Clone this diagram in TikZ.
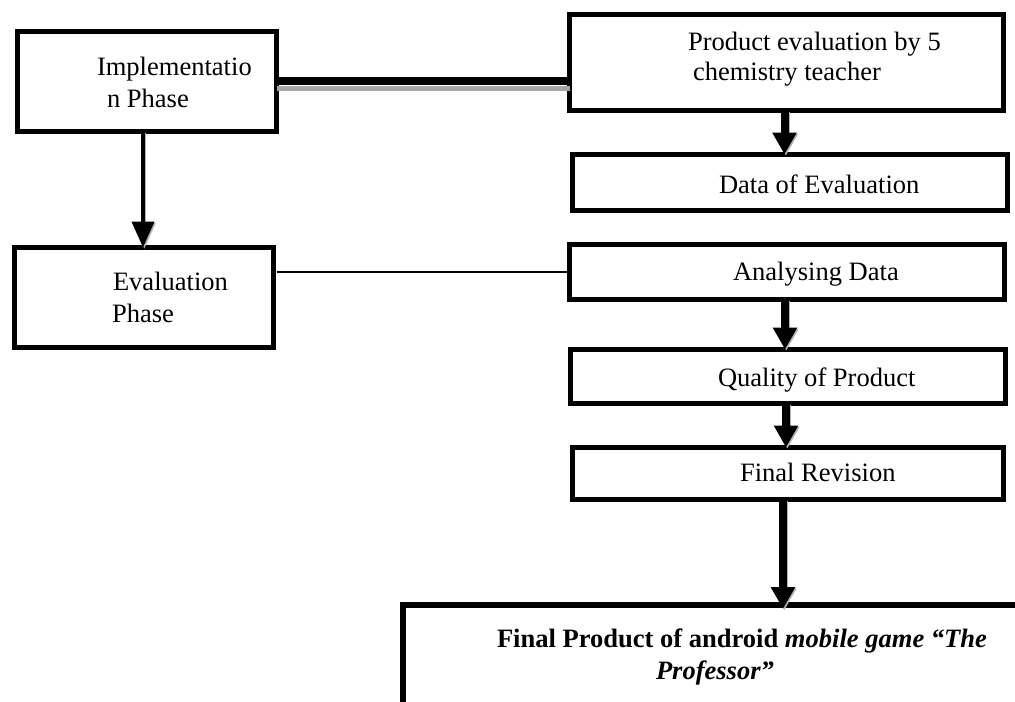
\documentclass[tikz,border=0pt]{standalone}
\usepackage{fontspec}
\setmainfont{Liberation Serif}
\usetikzlibrary{arrows.meta}
\begin{document}
\begin{tikzpicture}[x=0.75pt,y=-0.75pt,
  box/.style={draw, line width=3.75pt, rectangle, inner sep=0pt, outer sep=0pt},
  txt/.style={anchor=base west, inner sep=0pt, outer sep=0pt, font=\fontsize{19.9}{23}\selectfont},
  bighead/.style={-{Triangle[length=16.5pt,width=17.25pt]}},
  bigarrow/.style={line width=6pt, bighead,
    preaction={draw=gray!60, line width=6pt, bighead, transform canvas={xshift=1pt, yshift=-1pt}}},
  thinhead/.style={-{Triangle[length=19.5pt,width=16.5pt]}},
  thinarrow/.style={line width=3pt, thinhead,
    preaction={draw=gray!60, line width=3pt, thinhead, transform canvas={xshift=1pt, yshift=-1pt}}},
  thickline/.style={line width=6pt},
  shadowline/.style={draw=gray!70, line width=3.75pt},
  thinline/.style={line width=1.5pt}
]
\useasboundingbox (0,0) rectangle (1015,701);
\clip (0,0) rectangle (1015,701);

% boxes
\node[box, minimum width=194.25pt, minimum height=75pt] (impl) at (147,81.5) {};
\node[box, minimum width=194.25pt, minimum height=75pt] (eval) at (144,297.5) {};
\node[box, minimum width=325.5pt, minimum height=72pt] (prod) at (786.5,62.5) {};
\node[box, minimum width=326.25pt, minimum height=42pt] (data) at (790,182.5) {};
\node[box, minimum width=326.25pt, minimum height=41.25pt] (anal) at (787,272) {};
\node[box, minimum width=326.25pt, minimum height=40.5pt] (qual) at (788,376.5) {};
\node[box, minimum width=323.25pt, minimum height=39pt] (frev) at (788,473.5) {};
\node[box, line width=4.5pt, minimum width=477.75pt, minimum height=101.25pt] (final) at (721.5,672.5) {};

% texts
\node[txt] (timpla) at (97,75) {Implementatio};
\node[txt] (timplb) at (107,107) {n Phase};
\node[txt] (tproda) at (688,50) {Product evaluation by 5};
\node[txt] (tprodb) at (693,80) {chemistry teacher};
\node[txt] (tdata) at (719,193) {Data of Evaluation};
\node[txt] (tevala) at (113,290) {Evaluation};
\node[txt] (tevalb) at (112,322) {Phase};
\node[txt] (tanal) at (733,280) {Analysing Data};
\node[txt] (tqual) at (718,386) {Quality of Product};
\node[txt] (tfrev) at (740,481) {Final Revision};
\node[txt, font=\fontsize{19.9}{23}\selectfont\bfseries] (tfina) at (497,647) {Final Product of android \textit{mobile game “The}};
\node[txt, font=\fontsize{19.9}{23}\selectfont\bfseries\itshape] (tfinb) at (656,679) {Professor”};

% connectors
\coordinate (cA) at ([yshift=0.4pt]impl.east);
\coordinate (cB) at ([yshift=-4.9pt]impl.east);
\draw[shadowline] (cB) -- (cB -| prod.west);
\draw[thickline] (cA) -- (cA -| prod.west);
\draw[thinline, shorten <=2.25pt] (eval.east |- anal.west) -- (anal.west);

\coordinate (pS) at ([xshift=-1.5pt]prod.south);
\coordinate (iS) at ([xshift=-3pt]impl.south);
\coordinate (aS) at ([xshift=-1.5pt]anal.south);
\coordinate (qS) at ([xshift=-1.5pt]qual.south);
\coordinate (fS) at ([xshift=-3.75pt]frev.south);
\coordinate (fT) at ([yshift=-3pt]fS |- final.north);
\draw[bigarrow] (pS) -- (pS |- data.north);
\draw[thinarrow] (iS) -- (iS |- eval.north);
\draw[bigarrow] (aS) -- (aS |- qual.north);
\draw[bigarrow] (qS) -- (qS |- frev.north);
\draw[bigarrow] (fS) -- (fT);
\end{tikzpicture}
\end{document}
